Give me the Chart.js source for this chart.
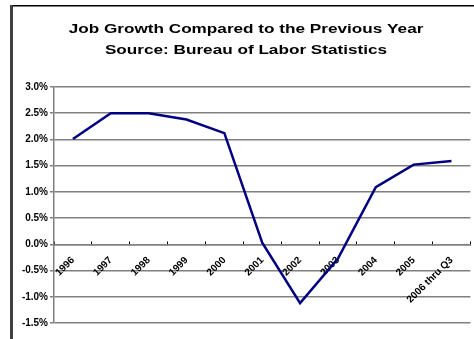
<!DOCTYPE html>
<html>
<head>
<meta charset="utf-8">
<script src="https://cdn.jsdelivr.net/npm/chart.js@4/dist/chart.umd.min.js"></script>
<style>
  html, body { margin: 0; padding: 0; background: #fff; }
  #grafico { display: block; }
</style>
</head>
<body>
<canvas id="grafico" width="474" height="339"></canvas>
<script>
const titulo = ['Job Growth Compared to the Previous Year', 'Source: Bureau of Labor Statistics'];
const anos = ['1996', '1997', '1998', '1999', '2000', '2001', '2002', '2003', '2004', '2005', '2006 thru Q3'];
const crescimento = [2.01, 2.5, 2.5, 2.38, 2.12, 0.03, -1.12, -0.27, 1.09, 1.52, 1.59];
const ticksY = [-1.5, -1.0, -0.5, 0.0, 0.5, 1.0, 1.5, 2.0, 2.5, 3.0];

const fonte = 'Liberation Sans, Arial, sans-serif';

// moldura e titulo (o titulo original aparece esticado na horizontal)
const moldura = {
  id: 'moldura',
  beforeDraw(chart) {
    const ctx = chart.ctx;
    ctx.save();
    ctx.fillStyle = '#fff';
    ctx.fillRect(0, 0, chart.width, chart.height);
    ctx.fillStyle = '#000';
    ctx.fillRect(10, 5, chart.width, 1.5);
    ctx.fillStyle = '#404040';
    ctx.fillRect(10, 5, 3, chart.height);
    ctx.restore();
  },
  afterDraw(chart) {
    const ctx = chart.ctx;
    ctx.save();
    ctx.font = 'bold 13px ' + fonte;
    ctx.fillStyle = '#000';
    ctx.textAlign = 'center';
    ctx.translate(246, 0);
    ctx.scale(1.32, 1);
    ctx.fillText(titulo[0], 0, 33);
    ctx.fillText(titulo[1], 0, 54);
    ctx.restore();
  }
};

const ctx = document.getElementById('grafico').getContext('2d');
new Chart(ctx, {
  type: 'line',
  data: {
    labels: anos,
    datasets: [{
      label: 'Job Growth',
      data: crescimento,
      borderColor: '#000080',
      borderWidth: 2.5,
      pointRadius: 0,
      tension: 0,
      fill: false
    }]
  },
  options: {
    responsive: false,
    animation: false,
    layout: { padding: { left: 10, top: 87, right: 0, bottom: 16 } },
    plugins: {
      legend: { display: false },
      title: { display: false },
      tooltip: { enabled: false }
    },
    scales: {
      x: {
        position: { y: 0 },
        offset: true,
        grid: {
          offset: true,
          drawOnChartArea: false,
          drawTicks: true,
          tickLength: -4,
          color: '#000'
        },
        border: { display: true, color: '#808080', width: 1.5 },
        ticks: {
          autoSkip: false,
          minRotation: 45,
          maxRotation: 45,
          padding: 14,
          color: '#000',
          font: { family: fonte, size: 10, weight: 'bold' }
        }
      },
      y: {
        min: -1.5,
        max: 3.0,
        afterFit: s => { s.width = 44; },
        afterBuildTicks: s => { s.ticks = ticksY.map(v => ({ value: v })); },
        grid: { color: '#808080', lineWidth: 1.5, tickLength: 4, drawTicks: true },
        border: { display: true, color: '#808080', width: 1.5 },
        ticks: {
          padding: 2,
          color: '#000',
          font: { family: fonte, size: 10, weight: 'bold' },
          callback: v => v.toFixed(1) + '%'
        }
      }
    }
  },
  plugins: [moldura]
});
</script>
</body>
</html>
